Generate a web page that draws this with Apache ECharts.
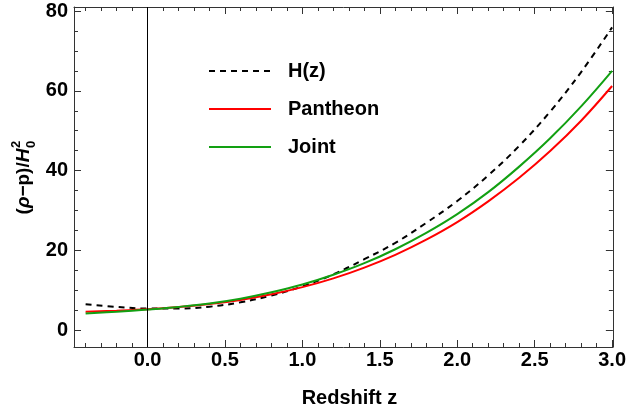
<!DOCTYPE html>
<html><head><meta charset="utf-8">
<script src="https://cdn.jsdelivr.net/npm/echarts@6/dist/echarts.min.js"></script>
<style>html,body{margin:0;padding:0;background:#fff}#c{width:629px;height:416px}</style>
</head><body><div id="c"></div>
<script>
// ---- data ----
const redshift = [-0.4,-0.2,0,0.2,0.4,0.6,0.8,1.0,1.2,1.4,1.6,1.8,2.0,2.2,2.4,2.6,2.8,3.0];
const hzValues = [6.5,5.85,5.45,5.45,5.9,7.0,8.7,11.0,14.0,17.8,21.9,26.9,32.4,38.8,46.2,54.8,64.7,75.9];
const pantheonValues = [4.65,4.9,5.25,5.8,6.55,7.6,9.0,10.8,13.0,15.7,18.9,22.7,27.1,32.3,38.2,44.9,52.5,61.2];
const jointValues = [4.2,4.65,5.2,5.85,6.7,7.9,9.5,11.45,13.9,16.8,20.3,24.4,29.1,34.6,41.0,48.1,56.1,65.0];
const seriesNames = ['H(z)','Pantheon','Joint'];
const xMajorTicks = [0,0.5,1.0,1.5,2.0,2.5,3.0];
const xMinorTicks = [-0.4,-0.3,-0.2,-0.1,0.1,0.2,0.3,0.4,0.6,0.7,0.8,0.9,1.1,1.2,1.3,1.4,1.6,1.7,1.8,1.9,2.1,2.2,2.3,2.4,2.6,2.7,2.8,2.9];
const yMajorTicks = [0,20,40,60,80];
const yMinorTicks = [5,10,15,25,30,35,45,50,55,65,70,75];
const xName = 'Redshift z';

// ---- layout ----
const X0 = -0.475, X1 = 3.005, Y0 = -4.2, Y1 = 81;
const FONT = '"Liberation Sans", Arial, sans-serif';
const FS = 20;
const FRAME = '#333';

function pair(xs, ys){ return xs.map((x,i)=>[x, ys[i]]); }

function xAx(pos, ticks, len, main){
  return {type:'value', position:pos, min:X0, max:X1,
    axisLine:{show:main, onZero:false, lineStyle:{color:FRAME,width:1}},
    axisTick:{show:true, inside:true, length:len, customValues:ticks, lineStyle:{color:FRAME,width:1}},
    axisLabel:{show:main && pos==='bottom', customValues:xMajorTicks, margin:3,
      formatter:v=>v.toFixed(1), color:'#000', fontSize:FS, fontWeight:'bold', fontFamily:FONT},
    splitLine:{show:false},
    name: (main && pos==='bottom') ? xName : '', nameLocation:'middle', nameGap:41,
    nameTextStyle:{color:'#000', fontSize:FS, fontWeight:'bold', fontFamily:FONT, padding:[0,0,0,12]}
  };
}
function yAx(pos, ticks, len, main){
  return {type:'value', position:pos, min:Y0, max:Y1,
    axisLine:{show:main, onZero:false, lineStyle:{color:FRAME,width:1}},
    axisTick:{show:true, inside:true, length:len, customValues:ticks, lineStyle:{color:FRAME,width:1}},
    axisLabel:{show:main && pos==='left', customValues:yMajorTicks, margin:6,
      color:'#000', fontSize:FS, fontWeight:'bold', fontFamily:FONT},
    splitLine:{show:false}
  };
}

const chart = echarts.init(document.getElementById('c'), null, {renderer:'canvas'});

// y-axis title with italic symbols and stacked sub/superscript
const ctx = document.createElement('canvas').getContext('2d');
const fB = 'bold 19px ' + FONT, fI = 'italic bold 19px ' + FONT;
const parts = [['(', fB], ['ρ', fI], ['−p)/', fB], ['H', fI]];
const widths = parts.map(p => { ctx.font = p[1]; return ctx.measureText(p[0]).width; });
const total = widths.reduce((a,b)=>a+b,0) + 9;
let cx = -total/2;
const titleChildren = parts.map((p,i) => {
  const el = {type:'text', x:cx, y:0, style:{text:p[0], font:p[1], fill:'#000', verticalAlign:'middle', align:'left'}};
  cx += widths[i];
  return el;
});
titleChildren.push({type:'text', x:cx+0.5, y:-8, style:{text:'2', font:'bold 13px '+FONT, fill:'#000', verticalAlign:'middle', align:'left'}});
titleChildren.push({type:'text', x:cx+0.5, y:7, style:{text:'0', font:'bold 13px '+FONT, fill:'#000', verticalAlign:'middle', align:'left'}});

chart.setOption({
  animation:false,
  grid:{left:74, right:15, top:7, bottom:69},
  xAxis:[xAx('bottom', xMajorTicks, 7, true), xAx('bottom', xMinorTicks, 4, false),
         xAx('top', xMajorTicks, 7, true), xAx('top', xMinorTicks, 4, false)],
  yAxis:[yAx('left', yMajorTicks, 7, true), yAx('left', yMinorTicks, 4, false),
         yAx('right', yMajorTicks, 7, true), yAx('right', yMinorTicks, 4, false)],
  legend:{orient:'vertical', left:208, top:61, padding:0, itemWidth:62, itemHeight:14, itemGap:18,
    data:seriesNames, itemStyle:{opacity:0},
    textStyle:{color:'#000', fontSize:FS, fontWeight:'bold', fontFamily:FONT, padding:[0,0,0,12]}},
  graphic:[{type:'group', x:24, y:177, rotation:Math.PI/2, children:titleChildren}],
  series:[
    {type:'line', name:seriesNames[0], data:pair(redshift, hzValues), smooth:0.4, symbol:'none', showSymbol:false,
     lineStyle:{color:'#000', width:2, type:[6,5]}, itemStyle:{color:'#000'},
     markLine:{silent:true, symbol:'none', label:{show:false}, animation:false,
       lineStyle:{color:'#000', width:1, type:'solid'}, data:[{xAxis:0}]}},
    {type:'line', name:seriesNames[1], data:pair(redshift, pantheonValues), smooth:0.4, symbol:'none', showSymbol:false,
     lineStyle:{color:'#ff0000', width:2}, itemStyle:{color:'#ff0000'}},
    {type:'line', name:seriesNames[2], data:pair(redshift, jointValues), smooth:0.4, symbol:'none', showSymbol:false,
     lineStyle:{color:'#12a012', width:2}, itemStyle:{color:'#12a012'}}
  ]
});
</script></body></html>
